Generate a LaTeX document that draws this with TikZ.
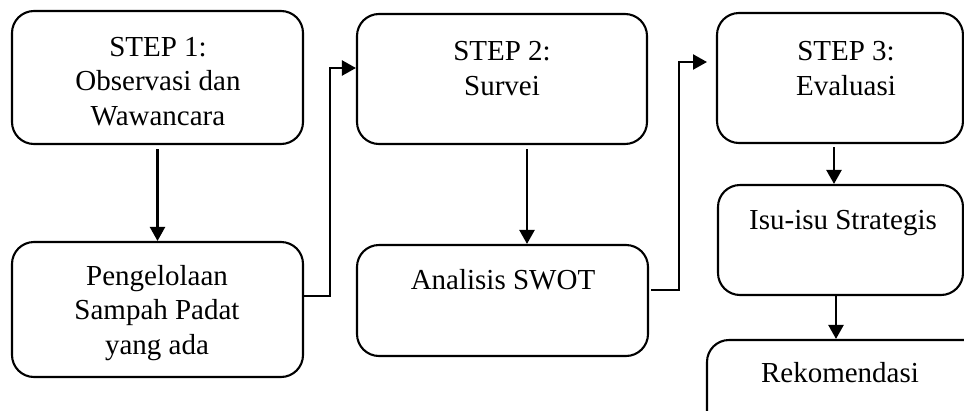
\documentclass[tikz,border=0pt]{standalone}
\usepackage{fontspec}
\setmainfont{Liberation Serif}
\usetikzlibrary{arrows.meta}
\begin{document}
\begin{tikzpicture}[x=1pt,y=-1pt,
  box/.style={draw, line width=2.1pt, rounded corners=22pt, inner sep=0pt},
  txt/.style={font=\fontsize{29}{34.5}\selectfont, align=center, anchor=base, inner sep=0pt},
  arr/.style={line width=2.3pt, -{Triangle[length=14pt,width=15pt]}}]
\useasboundingbox (0,0) rectangle (964,410);
\fill[white] (0,0) rectangle (964,410);

\node[box, minimum width=291pt, minimum height=133pt] (b1) at (157.5,77.5) {};
\node[box, minimum width=291pt, minimum height=135pt] (b1b) at (157.5,309.5) {};
\node[box, minimum width=290pt, minimum height=130pt] (b2) at (502,79) {};
\node[box, minimum width=291pt, minimum height=111pt] (b2b) at (502.5,300.5) {};
\node[box, minimum width=246pt, minimum height=130pt] (b3) at (840,78) {};
\node[box, minimum width=245pt, minimum height=110pt] (b3b) at (840.5,240) {};
\node[box, minimum width=280pt, minimum height=110pt] (b4) at (847,395) {};

\node[txt] (t1) at (158,125) {STEP 1:\\Observasi dan\\Wawancara};
\node[txt] (t1b) at (157,354) {Pengelolaan\\Sampah Padat\\yang ada};
\node[txt] (t2) at (502,95) {STEP 2:\\Survei};
\node[txt] (t2b) at (503,289) {Analisis SWOT};
\node[txt] (t3) at (846,95) {STEP 3:\\Evaluasi};
\node[txt] (t3b) at (843,229) {Isu-isu Strategis};
\node[txt] (t4) at (840,382) {Rekomendasi};

\coordinate (k1) at (330,68);
\coordinate (k2) at (679,62);
\coordinate (k3) at (707,62);

\draw[arr] ([yshift=-4pt]b1.south) -- (b1b.north);
\draw[arr] (b1b.east |- 0,296) -| (k1) -- (b2.west |- k1);
\draw[arr] ([xshift=25pt,yshift=-4pt]b2.south) -- ([xshift=24.5pt]b2b.north);
\draw[arr] ([xshift=2pt]b2b.east |- 0,290) -| (k2) -- (k3);
\draw[arr] ([xshift=-6pt,yshift=-3pt]b3.south) -- ([xshift=-6.5pt]b3b.north);
\draw[arr] ([xshift=-4.5pt]b3b.south) -- ([xshift=-11pt]b4.north);
\end{tikzpicture}
\end{document}
